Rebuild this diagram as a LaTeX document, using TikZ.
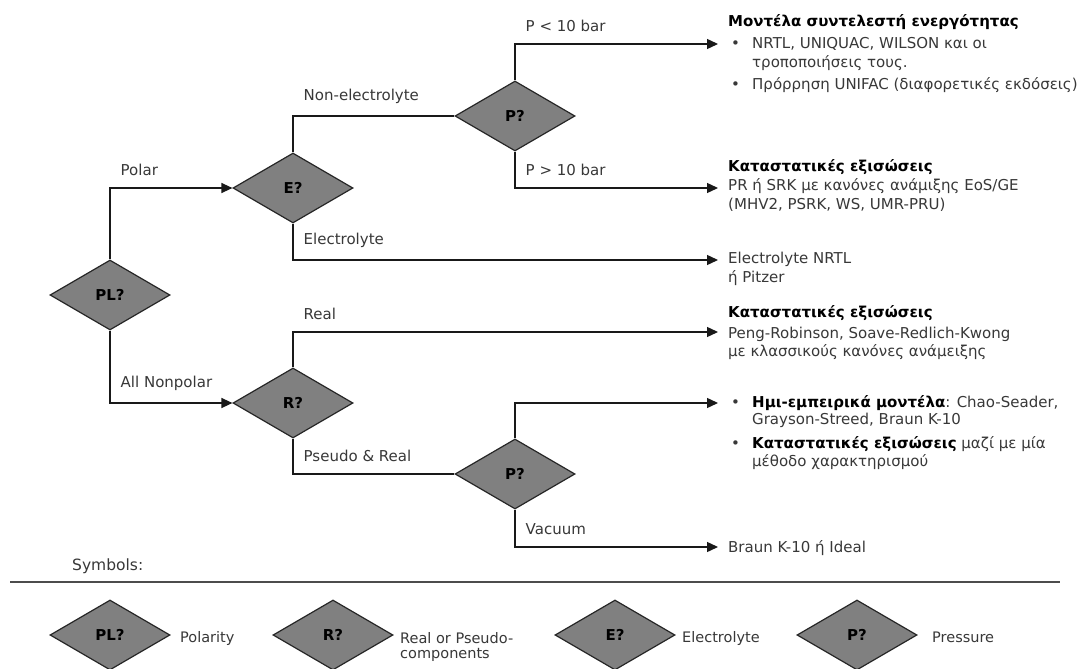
\documentclass[tikz,border=0pt]{standalone}
\usepackage{fontspec}
\setmainfont{DejaVu Sans}
\usepackage{tikz}
\usetikzlibrary{shapes.geometric,arrows.meta}
\definecolor{diafill}{HTML}{808080}
\definecolor{txtgray}{HTML}{383838}
\tikzset{decision/.style={diamond,draw=black!85,line width=1.2pt,fill=diafill,
        minimum width=120pt,minimum height=70pt,inner sep=0pt,
        font=\bfseries\fontsize{15}{17}\selectfont},
    branch/.style={draw=black!90,line width=1.4pt},
    goto/.style={branch,-{Triangle[length=11pt,width=10pt]}},
    lbl/.style={anchor=south west,xshift=9pt,yshift=11pt,inner sep=1pt,
        text=txtgray,font=\fontsize{15}{17}\selectfont},
    result/.style={anchor=base west,align=left,inner sep=0pt,text=txtgray,
        font=\fontsize{15}{18}\selectfont},
    key/.style={anchor=base west,align=left,inner sep=0pt,text=txtgray,
        font=\fontsize{14.5}{17}\selectfont}}
\newcommand{\bul}{\hspace*{3pt}\makebox[21pt][l]{•}}
\newcommand{\ind}{\hspace*{24pt}}

\begin{document}
\begin{tikzpicture}[x=1pt,y=-1pt]
    \useasboundingbox[fill=white] (0,0) rectangle (1080,669);

    % decisions
    \node[decision] (pl) at (110,295) {PL?};
    \node[decision] (e) at (293,188) {E?};
    \node[decision] (pt) at (515,116) {P?};
    \node[decision] (r) at (293,403) {R?};
    \node[decision] (pb) at (515,474) {P?};

    % arrow ends
    \coordinate (o1) at (718,44);
    \coordinate (o2) at (718,188);
    \coordinate (o3) at (718,260);
    \coordinate (o4) at (718,332);
    \coordinate (o5) at (718,403);
    \coordinate (o6) at (718,547);

    \draw[goto] (pl.north) |- node[lbl]{Polar} (e.west);
    \draw[goto] (pl.south) |- node[lbl]{All Nonpolar} (r.west);
    \draw[branch] (e.north) |- node[lbl]{Non-electrolyte} (pt.west);
    \draw[goto] (e.south) |- node[lbl]{Electrolyte} (o3);
    \draw[goto] (pt.north) |- node[lbl]{P < 10 bar} (o1);
    \draw[goto] (pt.south) |- node[lbl]{P > 10 bar} (o2);
    \draw[goto] (r.north) |- node[lbl]{Real} (o4);
    \draw[branch] (r.south) |- node[lbl]{Pseudo \& Real} (pb.west);
    \draw[goto] (pb.north) |- (o5);
    \draw[goto] (pb.south) |- node[lbl]{Vacuum} (o6);

    % models (base = last line)
    \node[result] (act) at (728,90) {\textcolor{black}{\textbf{Μοντέλα συντελεστή ενεργότητας}}\\[4pt]
        \bul NRTL, UNIQUAC, WILSON και οι\\[1pt]
        \ind τροποποιήσεις τους.\\[5pt]
        \bul Πρόρρηση UNIFAC (διαφορετικές εκδόσεις)};
    \node[result] (eos1) at (728,209) {\textcolor{black}{\textbf{Καταστατικές εξισώσεις}}\\[1pt]
        PR ή SRK με κανόνες ανάμιξης EoS/GE\\[1pt]
        (MHV2, PSRK, WS, UMR-PRU)};
    \node[result] (elec) at (728,282) {Electrolyte NRTL\\[1pt]ή Pitzer};
    \node[result] (eos2) at (728,356) {\textcolor{black}{\textbf{Καταστατικές εξισώσεις}}\\[3pt]
        Peng-Robinson, Soave-Redlich-Kwong\\
        με κλασσικούς κανόνες ανάμειξης};
    \node[result] (semi) at (728,466) {\bul\textcolor{black}{\textbf{Ημι-εμπειρικά μοντέλα}}: Chao-Seader,\\[-1pt]
        \ind Grayson-Streed, Braun K-10\\[6pt]
        \bul\textcolor{black}{\textbf{Καταστατικές εξισώσεις}} μαζί με μία\\
        \ind μέθοδο χαρακτηρισμού};
    \node[result] (ideal) at (728,552) {Braun K-10 ή Ideal};

    % symbols
    \node[key,font=\fontsize{15.5}{17}\selectfont] (sym) at (72,570) {Symbols:};
    \draw[line width=2.5pt,black!70] (10,582) -- (1060,582);
    \node[decision] (kpl) at (110,635) {PL?};
    \node[decision] (kr) at (333,635) {R?};
    \node[decision] (ke) at (615,635) {E?};
    \node[decision] (kp) at (857,635) {P?};
    \node[key] (tpl) at (180,642) {Polarity};
    \node[key] (tr) at (400,658) {Real or Pseudo-\\[-2pt]components};
    \node[key] (te) at (682,642) {Electrolyte};
    \node[key] (tp) at (932,642) {Pressure};
\end{tikzpicture}
\end{document}
